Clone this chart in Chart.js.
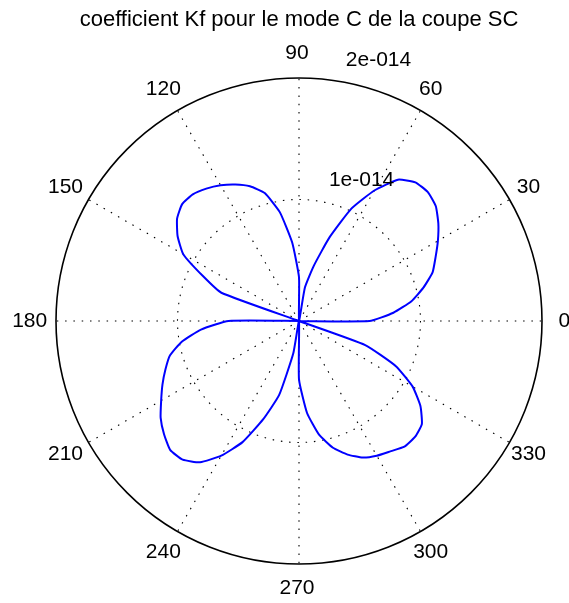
<!DOCTYPE html>
<html>
<head>
<meta charset="utf-8">
<script src="https://cdn.jsdelivr.net/npm/chart.js@4.4.0/dist/chart.umd.min.js"></script>
<style>
  body { margin: 0; background: #fff; }
</style>
</head>
<body>
<canvas id="polarChart" width="569" height="603"></canvas>
<script>
// angle (deg, counter-clockwise from the right) and Kf
var angles = [0, 5, 10, 15, 20, 25, 30, 35, 40, 45, 50, 55,
              60, 65, 70, 75, 80, 85, 90, 95, 100, 105, 110, 115,
              120, 125, 130, 135, 140, 145, 150, 155, 160, 165, 170, 175,
              180, 185, 190, 195, 200, 205, 210, 215, 220, 225, 230, 235,
              240, 245, 250, 255, 260, 265, 270, 275, 280, 285, 290, 295,
              300, 305, 310, 315, 320, 325, 330, 335, 340, 345, 350, 355];
var kf = [0.58e-14, 0.78e-14, 0.94e-14, 1.06e-14, 1.17e-14, 1.24e-14, 1.32e-14, 1.40e-14, 1.47e-14, 1.50e-14, 1.49e-14, 1.42e-14,
          1.24e-14, 1.02e-14, 0.73e-14, 0.47e-14, 0.28e-14, 0, 0.36e-14, 0.65e-14, 0.91e-14, 1.09e-14, 1.18e-14, 1.24e-14,
          1.29e-14, 1.33e-14, 1.36e-14, 1.36e-14, 1.31e-14, 1.22e-14, 1.10e-14, 0.87e-14, 0.68e-14, 0, 0, 0,
          0.58e-14, 0.81e-14, 0.98e-14, 1.10e-14, 1.17e-14, 1.24e-14, 1.31e-14, 1.39e-14, 1.45e-14, 1.50e-14, 1.49e-14, 1.42e-14,
          1.28e-14, 1.10e-14, 0.86e-14, 0.63e-14, 0.27e-14, 0, 0.48e-14, 0.76e-14, 0.95e-14, 1.08e-14, 1.17e-14, 1.24e-14,
          1.28e-14, 1.31e-14, 1.35e-14, 1.35e-14, 1.32e-14, 1.22e-14, 1.08e-14, 0.88e-14, 0.58e-14, 0, 0, 0];

var spokeAngles = [0, 30, 60, 90, 120, 150, 180, 210, 240, 270, 300, 330];
var ringTicks = [1e-14, 2e-14];
var ringLabels = ['1e-014', '2e-014'];
var rMax = 2e-14;

// radar goes clockwise from the top, matlab polar goes counter-clockwise from the right
var labels = [];
var values = [];
for (var i = 0; i < angles.length; i++) {
  var theta = (90 - i * 5 + 360) % 360;
  labels.push(theta);
  values.push(kf[angles.indexOf(theta)]);
}

var textFont = '21px "Liberation Sans", Arial, sans-serif';

var polarLabels = {
  id: 'polarLabels',
  afterDraw: function(chart) {
    var s = chart.scales.r;
    var ctx = chart.ctx;
    ctx.save();
    ctx.font = textFont;
    ctx.fillStyle = '#000';
    ctx.textAlign = 'center';
    ctx.textBaseline = 'middle';
    spokeAngles.forEach(function(a) {
      var p = s.getPointPositionForValue(labels.indexOf(a), rMax * 1.1);
      ctx.fillText(String(a), p.x - 2, p.y);
    });
    ctx.textAlign = 'left';
    var a82 = 82 * Math.PI / 180;
    ringTicks.forEach(function(v, k) {
      var d = s.getDistanceFromCenterForValue(v);
      ctx.fillText(ringLabels[k], s.xCenter + d * Math.cos(a82) + 13, s.yCenter - d * Math.sin(a82) - 20.5);
    });
    ctx.restore();
  }
};

function isOuter(c) {
  return c.tick && Math.abs(c.tick.value - rMax) < 1e-20;
}

new Chart(document.getElementById('polarChart').getContext('2d'), {
  type: 'radar',
  data: {
    labels: labels,
    datasets: [{
      data: values,
      borderColor: '#0000ff',
      backgroundColor: 'rgba(0,0,0,0)',
      borderWidth: 2,
      pointRadius: 0,
      fill: false,
      tension: 0.15
    }]
  },
  options: {
    responsive: false,
    animation: false,
    events: [],
    layout: { padding: { left: 56, right: 27, top: 0, bottom: 39 } },
    plugins: {
      legend: { display: false },
      tooltip: { enabled: false },
      title: {
        display: true,
        text: 'coefficient Kf pour le mode C de la coupe SC',
        color: '#000',
        font: { family: '"Liberation Sans", Arial, sans-serif', size: 22, weight: 'normal' },
        padding: { top: 7, bottom: 44.6 }
      }
    },
    scales: {
      r: {
        min: 0,
        max: rMax,
        ticks: { display: false, stepSize: 1e-14 },
        pointLabels: { display: false },
        grid: {
          circular: true,
          color: '#000',
          lineWidth: function(c) { return isOuter(c) ? 1.6 : 1.1; }
        },
        border: {
          dash: function(c) { return isOuter(c) ? [] : [1.5, 6.8]; }
        },
        angleLines: {
          color: '#000',
          lineWidth: function(c) { return c.index % 6 === 0 ? 1.1 : 0; },
          borderDash: [1.5, 6.8]
        }
      }
    }
  },
  plugins: [polarLabels]
});
</script>
</body>
</html>
